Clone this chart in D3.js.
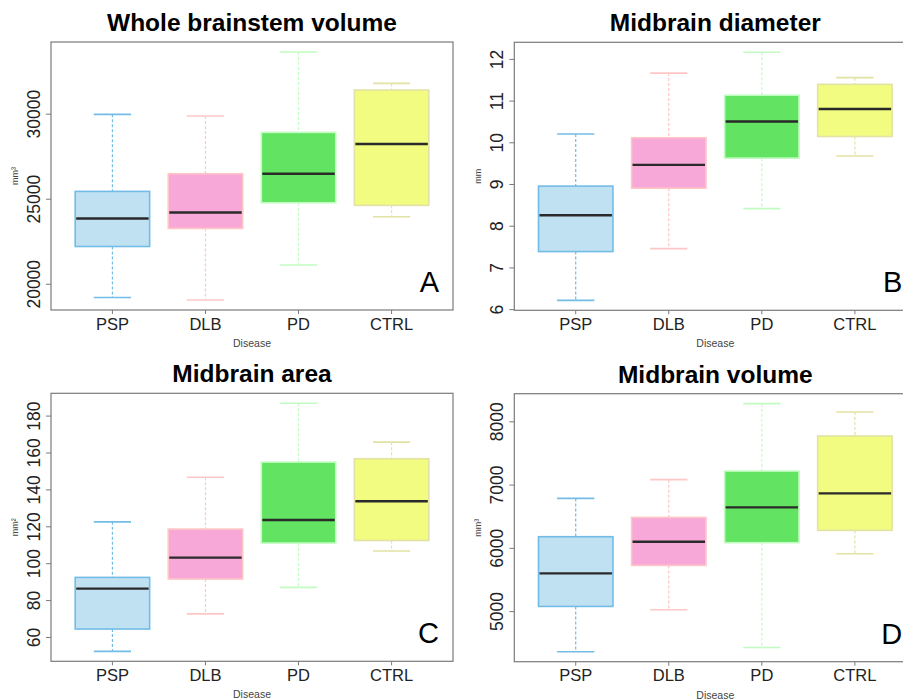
<!DOCTYPE html>
<html>
<head>
<meta charset="utf-8">
<script src="https://cdn.jsdelivr.net/npm/d3@7"></script>
<style>
  body { margin: 0; background: #fff; }
  svg { display: block; font-family: "Liberation Sans", Arial, sans-serif; }
</style>
</head>
<body>
<svg id="chart" width="903" height="699"></svg>
<script>
// groups on the x axis
var categories = ["PSP", "DLB", "PD", "CTRL"];

// five numbers per group: [lower whisker, Q1, median, Q3, upper whisker]
var brainstemStats = [
    [19190, 22190, 23840, 25430, 29960],
    [19040, 23250, 24190, 26470, 29860],
    [21100, 24760, 26470, 28900, 33630],
    [23940, 24610, 28220, 31390, 31780]
];
var diameterStats = [
    [6.21, 7.38, 8.25, 8.95, 10.20],
    [7.45, 8.90, 9.46, 10.11, 11.66],
    [8.41, 9.62, 10.50, 11.13, 12.16],
    [9.67, 10.14, 10.80, 11.39, 11.55]
];
var areaStats = [
    [52.2, 64.3, 86.2, 92.3, 122.4],
    [72.5, 91.4, 103.0, 118.5, 146.6],
    [86.9, 110.9, 123.4, 154.8, 186.7],
    [106.6, 112.3, 133.6, 156.6, 165.6]
];
var volumeStats = [
    [4357, 5074, 5596, 6176, 6782],
    [5021, 5722, 6097, 6481, 7078],
    [4425, 6081, 6640, 7214, 8280],
    [5907, 6276, 6861, 7768, 8147]
];

// tick labels of the y axes
var brainstemTicks = [20000, 25000, 30000];
var diameterTicks = [6, 7, 8, 9, 10, 11, 12];
var areaTicks = [60, 80, 100, 120, 140, 160, 180];
var volumeTicks = [5000, 6000, 7000, 8000];

var fills = ["#c0e1f2", "#f8a8d8", "#62e462", "#f2fc80"];
var borders = ["#72bce6", "#ffc6c6", "#c2fcc2", "#e2e2a4"];

var svg = d3.select("#chart");

// 一つのパネルを描く
function drawPanel(opt) {
    var left = opt.left, top = opt.top, w = 402, h = 268;
    var g = svg.append("g").attr("transform", "translate(" + left + "," + top + ")");

    // R のように上下 4% 余白
    var lo = d3.min(opt.stats, function(d){ return d[0]; });
    var hi = d3.max(opt.stats, function(d){ return d[4]; });
    var pad = (hi - lo) * 0.04;
    var y = d3.scaleLinear().domain([lo - pad, hi + pad]).range([h, 0]);
    var x = d3.scaleBand().domain(categories).range([0, w]).paddingInner(0.2).paddingOuter(0.26);
    var bw = x.bandwidth();

    // boxes
    var box = g.selectAll("g.box").data(opt.stats).enter().append("g").attr("class", "box");
    function cx(d, i) { return x(categories[i]) + bw / 2; }

    box.append("line")
        .attr("x1", cx).attr("x2", cx)
        .attr("y1", function(d){ return y(d[4]); })
        .attr("y2", function(d){ return y(d[3]); })
        .attr("stroke", function(d, i){ return borders[i]; })
        .attr("stroke-width", 1.2).attr("stroke-dasharray", "3,2");
    box.append("line")
        .attr("x1", cx).attr("x2", cx)
        .attr("y1", function(d){ return y(d[1]); })
        .attr("y2", function(d){ return y(d[0]); })
        .attr("stroke", function(d, i){ return borders[i]; })
        .attr("stroke-width", 1.2).attr("stroke-dasharray", "3,2");
    [0, 4].forEach(function(k) {
        box.append("line")
            .attr("x1", function(d, i){ return cx(d, i) - bw / 4; })
            .attr("x2", function(d, i){ return cx(d, i) + bw / 4; })
            .attr("y1", function(d){ return y(d[k]); })
            .attr("y2", function(d){ return y(d[k]); })
            .attr("stroke", function(d, i){ return borders[i]; })
            .attr("stroke-width", 1.6);
    });
    box.append("rect")
        .attr("x", function(d, i){ return x(categories[i]); })
        .attr("y", function(d){ return y(d[3]); })
        .attr("width", bw)
        .attr("height", function(d){ return y(d[1]) - y(d[3]); })
        .attr("fill", function(d, i){ return fills[i]; })
        .attr("stroke", function(d, i){ return borders[i]; })
        .attr("stroke-width", 1.6);
    box.append("line")
        .attr("x1", function(d, i){ return x(categories[i]) + 1; })
        .attr("x2", function(d, i){ return x(categories[i]) + bw - 1; })
        .attr("y1", function(d){ return y(d[2]); })
        .attr("y2", function(d){ return y(d[2]); })
        .attr("stroke", "#2a2a2a").attr("stroke-width", 2.4);

    // frame
    g.append("rect").attr("width", w).attr("height", h)
        .attr("fill", "none").attr("stroke", "#7a7a7a").attr("stroke-width", 1.2);

    // y axis
    var yAxis = g.append("g").call(d3.axisLeft(y).tickValues(opt.ticks)
        .tickFormat(d3.format("d")).tickSize(5).tickPadding(0));
    yAxis.select(".domain").remove();
    yAxis.selectAll(".tick line").attr("stroke", "#7a7a7a");
    yAxis.selectAll(".tick text")
        .attr("x", null).attr("dy", null)
        .attr("transform", "translate(-11,0) rotate(-90)")
        .attr("text-anchor", "middle")
        .attr("font-size", 17.5).attr("fill", "#222")
        .attr("font-family", "Liberation Sans, Arial, sans-serif");

    // x axis
    var xAxis = g.append("g").attr("transform", "translate(0," + h + ")")
        .call(d3.axisBottom(x).tickSize(4).tickPadding(4));
    xAxis.select(".domain").remove();
    xAxis.selectAll(".tick line").attr("stroke", "#7a7a7a");
    xAxis.selectAll(".tick text")
        .attr("font-size", 16.5).attr("fill", "#222")
        .attr("font-family", "Liberation Sans, Arial, sans-serif");

    // titles
    g.append("text").attr("x", w / 2).attr("y", -11)
        .attr("text-anchor", "middle").attr("font-size", 24.5).attr("font-weight", "bold")
        .attr("fill", "#000").text(opt.title);
    g.append("text").attr("x", w / 2).attr("y", h + 37)
        .attr("text-anchor", "middle").attr("font-size", 10.5).attr("fill", "#444").text("Disease");
    g.append("text").attr("transform", "translate(-33," + (h / 2) + ") rotate(-90)")
        .attr("text-anchor", "middle").attr("font-size", 9).attr("fill", "#444").text(opt.unit);
    g.append("text").attr("x", w - 14).attr("y", h - 18)
        .attr("text-anchor", "end").attr("font-size", 29).attr("fill", "#000").text(opt.letter);
}

drawPanel({ left: 51, top: 42, stats: brainstemStats, ticks: brainstemTicks,
    title: "Whole brainstem volume", unit: "mm³", letter: "A" });
drawPanel({ left: 514.3, top: 42.3, stats: diameterStats, ticks: diameterTicks,
    title: "Midbrain diameter", unit: "mm", letter: "B" });
drawPanel({ left: 51, top: 393.3, stats: areaStats, ticks: areaTicks,
    title: "Midbrain area", unit: "mm²", letter: "C" });
drawPanel({ left: 514.3, top: 393.7, stats: volumeStats, ticks: volumeTicks,
    title: "Midbrain volume", unit: "mm³", letter: "D" });
</script>
</body>
</html>
